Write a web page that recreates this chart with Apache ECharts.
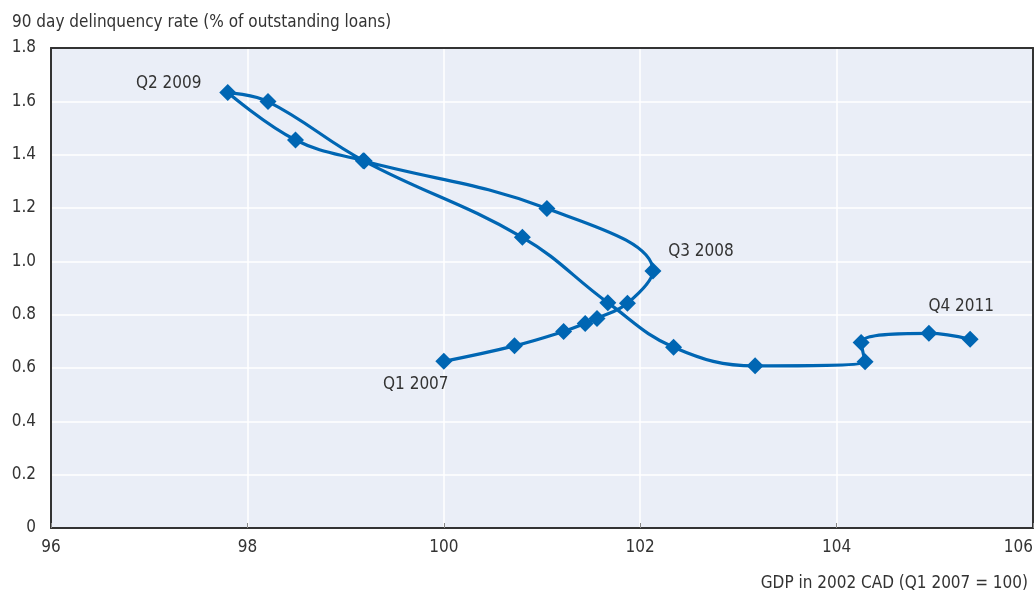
<!DOCTYPE html>
<html>
<head>
<meta charset="utf-8">
<script src="https://cdn.jsdelivr.net/npm/echarts@6/dist/echarts.min.js"></script>
<style>
html,body{margin:0;padding:0;background:#fff;}
#chart{width:1035px;height:592px;}
</style>
</head>
<body>
<div id="chart"></div>
<script>
// GDP in 2002 CAD (Q1 2007 = 100), in chronological order
var gdpValues = [100.00, 100.72, 101.22, 101.44, 101.56, 101.87, 102.13, 101.05, 99.18, 98.49, 97.80, 98.21, 99.19, 100.80, 101.67, 102.34, 103.17, 104.29, 104.25, 104.94, 105.36];
// 90 day delinquency rate (% of outstanding loans)
var delinquencyValues = [0.625, 0.683, 0.737, 0.767, 0.786, 0.843, 0.964, 1.198, 1.377, 1.455, 1.633, 1.599, 1.376, 1.090, 0.845, 0.678, 0.608, 0.623, 0.696, 0.730, 0.708];
// Point annotations: index into the series -> text
var annotationIndex = [0, 6, 10, 20];
var annotationText = ['Q1 2007', 'Q3 2008', 'Q2 2009', 'Q4 2011'];
var xTicks = [96, 98, 100, 102, 104, 106];
var yTicks = [0, 0.2, 0.4, 0.6, 0.8, 1.0, 1.2, 1.4, 1.6, 1.8];

var yTitle = '90 day delinquency rate (% of outstanding loans)';
var xTitle = 'GDP in 2002 CAD (Q1 2007 = 100)';

var FONT = '"Liberation Sans Narrow", "DejaVu Sans Condensed", sans-serif';
var FS = 17;
var TXT = '#333333';
var BLUE = '#0066B3';
var FRAME = '#333333';

// label offsets (presentation only)
var labelOffsets = [[-28, 23], [48, -19], [-59, -9], [-9, -33]];

var seriesData = gdpValues.map(function (x, i) {
  var item = { value: [x, delinquencyValues[i]] };
  var k = annotationIndex.indexOf(i);
  if (k >= 0) {
    item.label = {
      show: true,
      formatter: annotationText[k],
      position: 'inside',
      offset: labelOffsets[k],
      align: 'center',
      verticalAlign: 'middle',
      color: TXT,
      fontFamily: FONT,
      fontSize: FS
    };
  }
  return item;
});

var frameAxisX = {
  type: 'value', position: 'top',
  min: xTicks[0], max: xTicks[xTicks.length - 1], interval: 2,
  axisLine: { show: true, onZero: false, lineStyle: { color: FRAME, width: 2 } },
  axisTick: { show: false }, axisLabel: { show: false }, splitLine: { show: false }
};
var frameAxisY = {
  type: 'value', position: 'right',
  min: yTicks[0], max: yTicks[yTicks.length - 1], interval: 0.2,
  axisLine: { show: true, onZero: false, lineStyle: { color: FRAME, width: 2 } },
  axisTick: { show: false }, axisLabel: { show: false }, splitLine: { show: false }
};

var chart = echarts.init(document.getElementById('chart'), null, { renderer: 'canvas' });
chart.setOption({
  animation: false,
  backgroundColor: '#ffffff',
  title: [
    { text: yTitle, left: 7, top: 9, textStyle: { fontFamily: FONT, fontSize: FS, fontWeight: 'normal', color: TXT } },
    { text: xTitle, right: 2, top: 570, textStyle: { fontFamily: FONT, fontSize: FS, fontWeight: 'normal', color: TXT } }
  ],
  grid: {
    left: 51, right: 2, top: 48, bottom: 64,
    show: true,
    backgroundColor: '#EAEEF7',
    borderWidth: 0,
    containLabel: false,
    outerBoundsMode: 'none'
  },
  xAxis: [{
    type: 'value',
    min: xTicks[0],
    max: xTicks[xTicks.length - 1],
    interval: 2,
    axisLine: { show: true, onZero: false, lineStyle: { color: FRAME, width: 2 } },
    axisTick: { show: true, inside: true, length: 5, lineStyle: { color: '#888' } },
    splitLine: { show: true, lineStyle: { color: '#ffffff', width: 1.5 } },
    axisLabel: { color: TXT, fontFamily: FONT, fontSize: FS, margin: 11, alignMaxLabel: 'right' }
  }, frameAxisX],
  yAxis: [{
    type: 'value',
    min: yTicks[0],
    max: yTicks[yTicks.length - 1],
    interval: 0.2,
    axisLine: { show: true, onZero: false, lineStyle: { color: FRAME, width: 2 } },
    axisTick: { show: false },
    splitLine: { show: true, lineStyle: { color: '#ffffff', width: 1.5 } },
    axisLabel: {
      color: TXT, fontFamily: FONT, fontSize: FS, margin: 15,
      formatter: function (v) { return v === 0 ? '0' : v.toFixed(1); }
    }
  }, frameAxisY],
  series: [{
    type: 'line',
    xAxisIndex: 0,
    yAxisIndex: 0,
    data: seriesData,
    smooth: 0.4,
    symbol: 'diamond',
    symbolSize: 17,
    showAllSymbol: true,
    lineStyle: { color: BLUE, width: 3.2 },
    itemStyle: { color: BLUE },
    z: 3
  }]
});
</script>
</body>
</html>
